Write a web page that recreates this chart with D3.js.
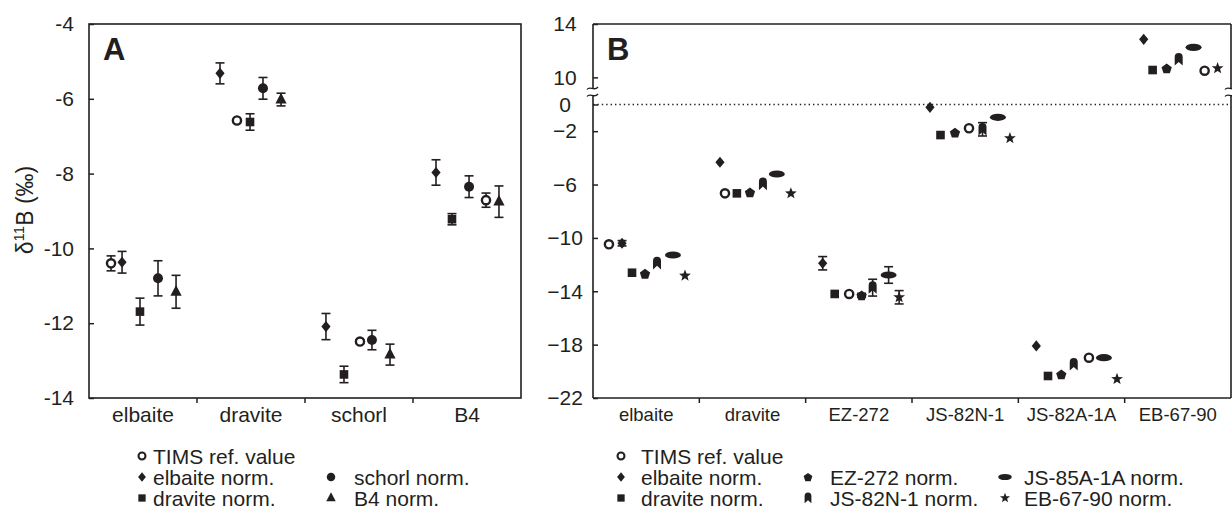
<!DOCTYPE html>
<html><head><meta charset="utf-8">
<script src="https://cdn.jsdelivr.net/npm/d3@7"></script>
<style>
body{margin:0;background:#fff;}
svg text{font-family:"Liberation Sans",Arial,sans-serif;fill:#231f20;}
</style></head><body>
<svg id="c" width="1232" height="523"></svg>
<script>
// ---------------- DATA ----------------
const catsA = ["elbaite", "dravite", "schorl", "B4"];
const seriesA = ["TIMS ref. value", "elbaite norm.", "dravite norm.", "schorl norm.", "B4 norm."];
const timsA    = [-10.40, -6.58, -12.49, -8.71];
const elbA     = [-10.37, -5.32, -12.09, -7.97];
const dravA    = [-11.69, -6.62, -13.37, -9.22];
const schorlA  = [-10.80, -5.72, -12.45, -8.35];
const b4A      = [-11.16, -6.02, -12.84, -8.75];
const errTimsA   = [0.20, 0, 0, 0.19];
const errElbA    = [0.29, 0.28, 0.35, 0.34];
const errDravA   = [0.36, 0.22, 0.22, 0.15];
const errSchorlA = [0.47, 0.29, 0.26, 0.29];
const errB4A     = [0.44, 0.17, 0.28, 0.42];
const ticksA = [-4, -6, -8, -10, -12, -14];

const catsB = ["elbaite", "dravite", "EZ-272", "JS-82N-1", "JS-82A-1A", "EB-67-90"];
const seriesB = ["TIMS ref. value", "elbaite norm.", "dravite norm.", "EZ-272 norm.", "JS-82N-1 norm.", "JS-85A-1A norm.", "EB-67-90 norm."];
const timsB  = [-10.48, -6.66, -14.20, -1.78, -18.98, 10.50];
const elbB   = [-10.40, -4.33, -11.90, -0.21, -18.10, 12.85];
const dravB  = [-12.61, -6.66, -14.20, -2.29, -20.35, 10.55];
const ezB    = [-12.68, -6.58, -14.30, -2.11, -20.23, 10.68];
const n1B    = [-11.90, -5.96, -13.73, -1.86, -19.48, 11.35];
const a85B   = [-11.28, -5.21, -12.78, -0.96, -18.98, 12.25];
const ebB    = [-12.83, -6.66, -14.45, -2.53, -20.58, 10.68];
const errTimsB = [0, 0, 0, 0, 0, 0];
const errElbB  = [0.20, 0, 0.50, 0, 0, 0];
const errDravB = [0, 0, 0, 0, 0, 0];
const errEzB   = [0, 0, 0.15, 0, 0, 0];
const errN1B   = [0, 0, 0.63, 0.50, 0, 0];
const errA85B  = [0, 0, 0.62, 0, 0, 0];
const errEbB   = [0, 0, 0.50, 0, 0, 0];
const ticksBLow = [0, -2, -6, -10, -14, -18, -22];
const ticksBHigh = [14, 10];

// ---------------- LAYOUT (positions within category, fraction of band) ----------------
const slotA = [
  [.204, .370, .509, .676],
  [.306, .213, .194, .213],
  [.472, .491, .361, .361],
  [.639, .611, .620, .519],
  [.806, .778, .787, .796]
];
const slotB = [
  [.150, .241, .409, .536, .664, .752],
  [.273, .194, .160, .169, .169, .179],
  [.367, .353, .273, .268, .279, .263],
  [.489, .476, .526, .404, .404, .395],
  [.602, .598, .630, .663, .521, .508],
  [.752, .729, .780, .808, .805, .648],
  [.865, .861, .879, .921, .928, .874]
];

const ink = "#231f20";
const svg = d3.select("#c");

// ---------------- MARKERS ----------------
function starPath(R, r) {
  let p = "";
  for (let i = 0; i < 10; i++) {
    const a = -Math.PI / 2 + i * Math.PI / 5;
    const rr = i % 2 ? r : R;
    p += (i ? "L" : "M") + (rr * Math.cos(a)).toFixed(2) + "," + (rr * Math.sin(a)).toFixed(2);
  }
  return p + "Z";
}
function pentPath(R) {
  let p = "";
  for (let i = 0; i < 5; i++) {
    const a = -Math.PI / 2 + i * 2 * Math.PI / 5;
    p += (i ? "L" : "M") + (R * Math.cos(a)).toFixed(2) + "," + (R * Math.sin(a) + 0.6).toFixed(2);
  }
  return p + "Z";
}
const shapes = {
  diamond: "M0,-5.6L4.6,0L0,5.6L-4.6,0Z",
  square: "M-4.3,-4.3H4.3V4.3H-4.3Z",
  triangle: "M0,-6.8L5.6,3.9L-5.6,3.9Z",
  pentagon: pentPath(5.4),
  house: "M-4,6.2V-2.2Q-4,-6.4 0,-6.4Q4,-6.4 4,-2.2V6.2L0,2.6Z",
  ellipse: "M-8,0A8,3.6 0 1,0 8,0A8,3.6 0 1,0 -8,0Z",
  star: starPath(6.2, 2.6),
  dot: "M-5,0A5,5 0 1,0 5,0A5,5 0 1,0 -5,0Z"
};
function drawMarker(g, type, x, y, k) {
  k = k || 1;
  if (type === "open") {
    g.append("circle").attr("cx", x).attr("cy", y).attr("r", 4.1 * k)
      .attr("fill", "#fff").attr("stroke", ink).attr("stroke-width", 2.4 * k);
  } else {
    g.append("path").attr("d", shapes[type])
      .attr("transform", `translate(${x},${y}) scale(${k})`).attr("fill", ink);
  }
}
function drawErr(g, x, y0, y1) {
  const c = 4.5;
  g.append("line").attr("x1", x).attr("x2", x).attr("y1", y0).attr("y2", y1);
  g.append("line").attr("x1", x - c).attr("x2", x + c).attr("y1", y0).attr("y2", y0);
  g.append("line").attr("x1", x - c).attr("x2", x + c).attr("y1", y1).attr("y2", y1);
}

// ---------------- PANEL A ----------------
const A = {x0: 89, x1: 521, y0: 24, y1: 398};
const xA = d3.scaleBand().domain(catsA).range([A.x0, A.x1]);
const yA = d3.scaleLinear().domain([-14, -4]).range([A.y1, A.y0]);
const gA = svg.append("g");

gA.append("g").attr("transform", `translate(${A.x0},0)`)
  .call(d3.axisLeft(yA).tickValues(ticksA).tickFormat(d => String(d)).tickSizeInner(-5).tickSizeOuter(0).tickPadding(15))
  .call(g => g.select(".domain").remove())
  .call(g => g.selectAll("line").attr("stroke", ink).attr("stroke-width", 1.5))
  .call(g => g.selectAll("text").attr("font-size", 21).attr("font-family", null).attr("fill", ink));

gA.append("g").attr("transform", `translate(0,${A.y1})`)
  .call(d3.axisBottom(xA).tickSize(0).tickPadding(9))
  .call(g => g.select(".domain").remove())
  .call(g => g.selectAll("text").attr("font-size", 21).attr("font-family", null).attr("fill", ink));
catsA.slice(1).forEach(c => {
  gA.append("line").attr("x1", xA(c)).attr("x2", xA(c)).attr("y1", A.y1).attr("y2", A.y1 + 5)
    .attr("stroke", ink).attr("stroke-width", 1.5);
});
gA.append("rect").attr("x", A.x0).attr("y", A.y0).attr("width", A.x1 - A.x0).attr("height", A.y1 - A.y0)
  .attr("fill", "none").attr("stroke", ink).attr("stroke-width", 1.6);

const valsA = [timsA, elbA, dravA, schorlA, b4A];
const errsA = [errTimsA, errElbA, errDravA, errSchorlA, errB4A];
const typesA = ["open", "diamond", "square", "dot", "triangle"];
const eA = gA.append("g").attr("stroke", ink).attr("stroke-width", 1.6);
const mA = gA.append("g");
valsA.forEach((arr, s) => {
  arr.forEach((v, i) => {
    const x = xA(catsA[i]) + slotA[s][i] * xA.bandwidth();
    const e = errsA[s][i];
    if (e > 0) drawErr(eA, x, yA(v - e), yA(v + e));
    drawMarker(mA, typesA[s], x, yA(v));
  });
});
gA.append("text").attr("x", 103).attr("y", 60).attr("font-size", 31).attr("font-weight", "bold").text("A");

const yt = svg.append("text").attr("transform", "translate(33,210) rotate(-90)").attr("text-anchor", "middle").attr("font-size", 23);
yt.append("tspan").text("δ");
yt.append("tspan").attr("font-size", 15).attr("dy", -9).text("11");
yt.append("tspan").attr("dy", 9).text("B (‰)");

// legend A
const legA = svg.append("g");
const legAItems = [
  {s: 0, x: 142, y: 456, tx: 153},
  {s: 1, x: 142, y: 477, tx: 153},
  {s: 2, x: 142, y: 498, tx: 153},
  {s: 3, x: 331, y: 477, tx: 354},
  {s: 4, x: 331, y: 498, tx: 354}
];
legAItems.forEach(d => {
  drawMarker(legA, typesA[d.s], d.x, d.y, 0.85);
  legA.append("text").attr("x", d.tx).attr("y", d.y).attr("dy", "0.36em").attr("font-size", 21).text(seriesA[d.s]);
});

// ---------------- PANEL B ----------------
const B = {x0: 593, x1: 1231, y0: 24, y1: 398, brk: 92};
const xB = d3.scaleBand().domain(catsB).range([B.x0, B.x1]);
const yLow = d3.scaleLinear().domain([-22, (104.5 - B.brk) / 13.34]).range([B.y1, B.brk]);
const yHigh = d3.scaleLinear().domain([14 - (B.brk - B.y0) / 13.34, 14]).range([B.brk, B.y0]);
const yB = v => v > 5 ? yHigh(v) : yLow(v);
const gB = svg.append("g");

function yAxisB(scale, ticks) {
  gB.append("g").attr("transform", `translate(${B.x0},0)`)
    .call(d3.axisLeft(scale).tickValues(ticks).tickFormat(d3.format("d")).tickSizeInner(-5).tickSizeOuter(0).tickPadding(28))
    .call(g => g.select(".domain").remove())
    .call(g => g.selectAll("line").attr("stroke", ink).attr("stroke-width", 1.5))
    .call(g => g.selectAll("text").attr("font-size", 21).attr("font-family", null).attr("fill", ink).attr("text-anchor", "middle"));
}
yAxisB(yLow, ticksBLow);
yAxisB(yHigh, ticksBHigh);

gB.append("g").attr("transform", `translate(0,${B.y1})`)
  .call(d3.axisBottom(xB).tickSize(0).tickPadding(10))
  .call(g => g.select(".domain").remove())
  .call(g => g.selectAll("text").attr("font-size", 18.5).attr("font-family", null).attr("fill", ink));
catsB.slice(1).forEach(c => {
  gB.append("line").attr("x1", xB(c)).attr("x2", xB(c)).attr("y1", B.y1).attr("y2", B.y1 + 5)
    .attr("stroke", ink).attr("stroke-width", 1.5);
});
// frame with breaks
const fr = gB.append("g").attr("stroke", ink).attr("stroke-width", 1.6).attr("fill", "none");
fr.append("line").attr("x1", B.x0).attr("x2", B.x1).attr("y1", B.y0).attr("y2", B.y0);
fr.append("line").attr("x1", B.x0).attr("x2", B.x1).attr("y1", B.y1).attr("y2", B.y1);
fr.append("line").attr("x1", B.x0).attr("x2", B.x0).attr("y1", B.y0).attr("y2", B.brk - 4);
fr.append("line").attr("x1", B.x0).attr("x2", B.x0).attr("y1", B.brk + 3).attr("y2", B.y1);
fr.append("line").attr("x1", B.x1).attr("x2", B.x1).attr("y1", B.y0).attr("y2", B.brk - 4);
fr.append("line").attr("x1", B.x1).attr("x2", B.x1).attr("y1", B.brk + 3).attr("y2", B.y1);
[B.x0, B.x1].forEach(x => {
  [-4, 3].forEach(o => {
    fr.append("path").attr("stroke-width", 1.3)
      .attr("d", `M${x - 6},${B.brk + o + 1.5} C${x - 3},${B.brk + o - 3} ${x + 1},${B.brk + o + 4} ${x + 5},${B.brk + o - 1}`);
  });
});
// zero line
gB.append("line").attr("x1", B.x0).attr("x2", B.x1).attr("y1", yB(0)).attr("y2", yB(0))
  .attr("stroke", ink).attr("stroke-width", 1.4).attr("stroke-dasharray", "1.4,3");

const valsB = [timsB, elbB, dravB, ezB, n1B, a85B, ebB];
const errsB = [errTimsB, errElbB, errDravB, errEzB, errN1B, errA85B, errEbB];
const typesB = ["open", "diamond", "square", "pentagon", "house", "ellipse", "star"];
const eB = gB.append("g").attr("stroke", ink).attr("stroke-width", 1.6);
const mB = gB.append("g");
valsB.forEach((arr, s) => {
  arr.forEach((v, i) => {
    const x = xB(catsB[i]) + slotB[s][i] * xB.bandwidth();
    const e = errsB[s][i];
    if (e > 0) drawErr(eB, x, yB(v - e), yB(v + e));
    drawMarker(mB, typesB[s], x, yB(v));
  });
});
gB.append("text").attr("x", 607).attr("y", 60).attr("font-size", 31).attr("font-weight", "bold").text("B");

// legend B
const legB = svg.append("g");
const legBItems = [
  {s: 0, x: 621, y: 456, tx: 641},
  {s: 1, x: 621, y: 477, tx: 641},
  {s: 2, x: 621, y: 498, tx: 641},
  {s: 3, x: 808, y: 477, tx: 830},
  {s: 4, x: 808, y: 498, tx: 830},
  {s: 5, x: 1005, y: 477, tx: 1024},
  {s: 6, x: 1005, y: 498, tx: 1024}
];
legBItems.forEach(d => {
  drawMarker(legB, typesB[d.s], d.x, d.y, 0.85);
  legB.append("text").attr("x", d.tx).attr("y", d.y).attr("dy", "0.36em").attr("font-size", 21).text(seriesB[d.s]);
});
</script>
</body></html>
